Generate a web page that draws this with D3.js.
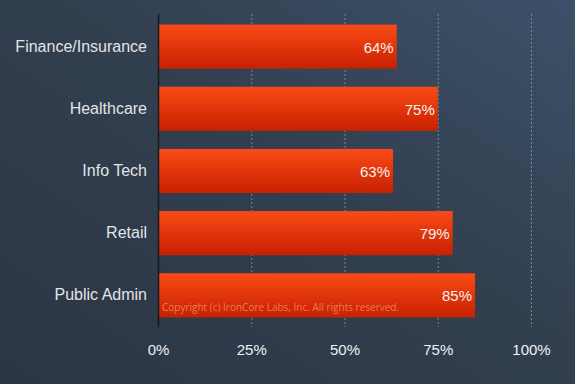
<!DOCTYPE html>
<html>
<head>
<meta charset="utf-8">
<script src="https://cdn.jsdelivr.net/npm/d3@7"></script>
<style>
  html, body { margin: 0; padding: 0; }
  svg { display: block; }
</style>
</head>
<body>
<svg id="chart"></svg>
<script>
const categories = ['Finance/Insurance', 'Healthcare', 'Info Tech', 'Retail', 'Public Admin'];
const values = [64, 75, 63, 79, 85];
const tickValues = [0, 25, 50, 75, 100];

const svgWidth = 575;
const svgHeight = 384;
const margin = {top: 14, right: 44, bottom: 58, left: 158};

const svg = d3.select('#chart')
  .attr('width', svgWidth)
  .attr('height', svgHeight)
  .style('font-family', '"Liberation Sans", Arial, sans-serif');

const defs = svg.append('defs');

const bg = defs.append('linearGradient')
  .attr('id', 'bg')
  .attr('x1', '0%').attr('y1', '100%')
  .attr('x2', '100%').attr('y2', '0%');
bg.append('stop').attr('offset', '0%').attr('stop-color', '#2b3644');
bg.append('stop').attr('offset', '55%').attr('stop-color', '#323f4f');
bg.append('stop').attr('offset', '100%').attr('stop-color', '#3b5169');

const barGrad = defs.append('linearGradient')
  .attr('id', 'barGrad')
  .attr('x1', 0).attr('y1', 0)
  .attr('x2', 0).attr('y2', 1);
barGrad.append('stop').attr('offset', '0%').attr('stop-color', '#fb4a16');
barGrad.append('stop').attr('offset', '100%').attr('stop-color', '#c62100');

svg.append('rect')
  .attr('width', svgWidth)
  .attr('height', svgHeight)
  .attr('fill', 'url(#bg)');

const xScale = d3.scaleLinear()
  .domain([0, 100])
  .range([margin.left, 531]);

const yScale = d3.scaleBand()
  .domain(categories)
  .range([margin.top, svgHeight - margin.bottom + 2])
  .paddingInner(0.29)
  .paddingOuter(0.17);

// grid lines
svg.append('g')
  .selectAll('line')
  .data(tickValues.slice(1))
  .enter()
  .append('line')
  .attr('x1', d => xScale(d) + 0.5)
  .attr('x2', d => xScale(d) + 0.5)
  .attr('y1', 14)
  .attr('y2', 327)
  .attr('stroke', '#7a8794')
  .attr('stroke-width', 1)
  .attr('stroke-dasharray', '2,2');

// bars
svg.append('g')
  .selectAll('rect')
  .data(values)
  .enter()
  .append('rect')
  .attr('x', xScale(0))
  .attr('y', (d, i) => yScale(categories[i]))
  .attr('width', d => xScale(d) - xScale(0))
  .attr('height', yScale.bandwidth())
  .attr('fill', 'url(#barGrad)');

// value labels
svg.append('g')
  .selectAll('text')
  .data(values)
  .enter()
  .append('text')
  .attr('x', d => xScale(d) - 3)
  .attr('y', (d, i) => yScale(categories[i]) + yScale.bandwidth() / 2 + 6)
  .attr('text-anchor', 'end')
  .attr('fill', '#f4f0ee')
  .style('font-size', '15px')
  .text(d => d + '%');

// axis line
svg.append('line')
  .attr('x1', xScale(0) + 0.5)
  .attr('x2', xScale(0) + 0.5)
  .attr('y1', 14)
  .attr('y2', 327)
  .attr('stroke', '#151b22')
  .attr('stroke-width', 1.5);

// category labels
const yAxis = d3.axisLeft(yScale).tickSize(0).tickPadding(11);
const yg = svg.append('g')
  .attr('transform', 'translate(' + xScale(0) + ',0)')
  .call(yAxis);
yg.select('.domain').remove();
yg.selectAll('text')
  .attr('fill', '#e2e4e6')
  .style('font-size', '16px')
  .style('font-family', '"Liberation Sans", Arial, sans-serif');

// x axis
const xAxis = d3.axisBottom(xScale)
  .tickValues(tickValues)
  .tickFormat(d => d + '%')
  .tickSize(0)
  .tickPadding(12);
const xg = svg.append('g')
  .attr('transform', 'translate(0,' + 332 + ')')
  .call(xAxis);
xg.select('.domain').remove();
xg.selectAll('text')
  .attr('fill', '#eef0f2')
  .style('font-size', '15px')
  .style('font-family', '"Liberation Sans", Arial, sans-serif');

// copyright
svg.append('text')
  .attr('x', xScale(0) + 4)
  .attr('y', 311)
  .attr('fill', '#f08a70')
  .attr('fill-opacity', 0.85)
  .style('font-size', '10px')
  .style('font-family', '"Open Sans", sans-serif')
  .text('Copyright (c) IronCore Labs, Inc. All rights reserved.');
</script>
</body>
</html>
